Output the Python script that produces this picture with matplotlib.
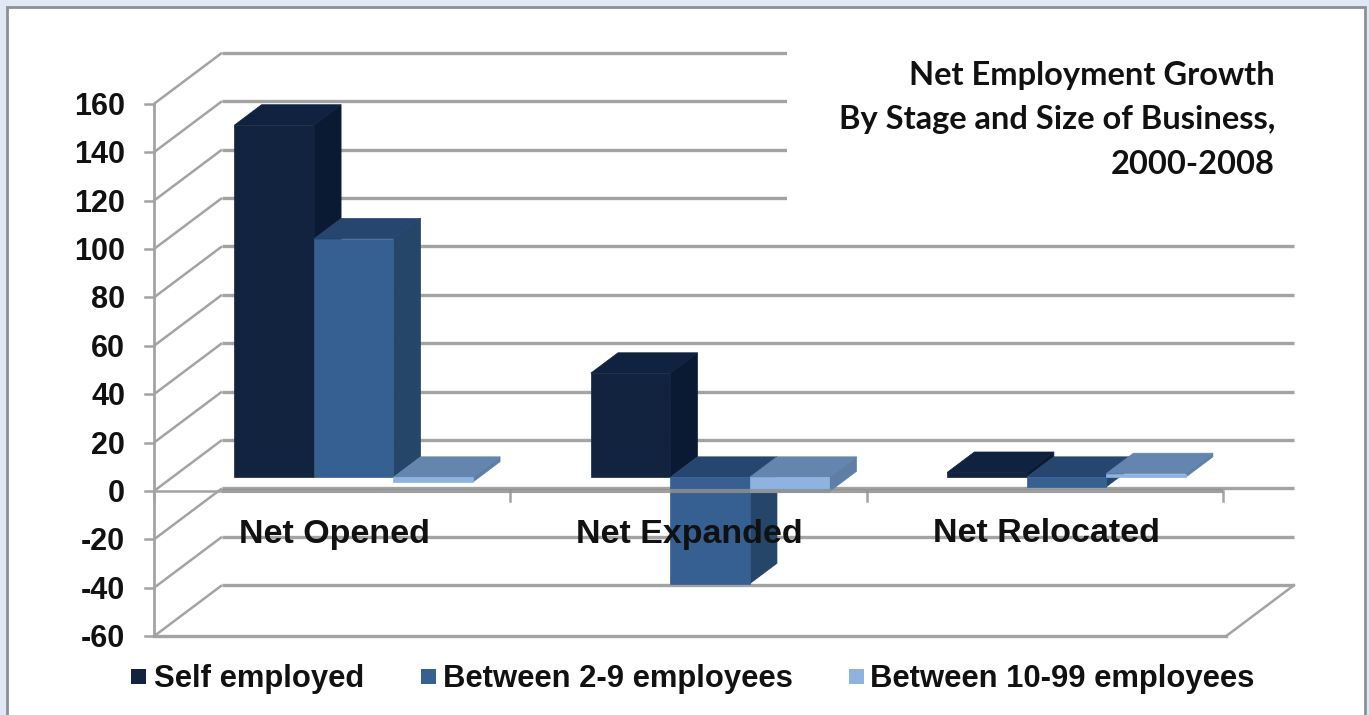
import matplotlib
matplotlib.use('Agg')
import matplotlib.pyplot as plt
from matplotlib.patches import Polygon, Rectangle

categories = ['Net Opened', 'Net Expanded', 'Net Relocated']
series_names = ['Self employed', 'Between 2-9 employees', 'Between 10-99 employees']
self_employed = [145.5, 43, 2]
between_2_9 = [98.5, -44, -4]
between_10_99 = [-2, -6, 1.5]
y_ticks = [160, 140, 120, 100, 80, 60, 40, 20, 0, -20, -40, -60]

# front, top and side shades of each series
front_colors = ['#12233f', '#365f92', '#8eb3e0']
top_colors = ['#0f2340', '#264670', '#6485ae']
side_colors = ['#0b1a33', '#254569', '#5f7ea6']

# the axes fill the figure: one x unit is one category, one y unit is one value unit
PX_X = 356.4
PX_Y = 2.42
DEPTH_X = 68 / PX_X
DEPTH_Y = 51 / PX_Y
BAR_FRONT = 0.27
BAR_BACK = 0.67
BAR_W = 79.5 / PX_X
BAR_START = 0.174
FLOOR_END = 1072 / PX_X
GRID = '#a3a3a3'
TEXT = '#111111'


def proj(x, v, d=0):
    return x + DEPTH_X * d, v + DEPTH_Y * d


def px(x_pix, y_pix):
    return (x_pix - 154) / PX_X, (491 - y_pix) / PX_Y


fig = plt.figure(figsize=(13.69, 7.15), dpi=100, facecolor='#dfe8f3')
ax = fig.add_axes([0, 0, 1, 1])
ax.set_xlim(px(0, 0)[0], px(1369, 0)[0])
ax.set_ylim(px(0, 715)[1], px(0, 0)[1])
ax.axis('off')

# panel behind the chart
x0, y0 = px(7, 720)
x1, y1 = px(1365, 7)
ax.add_patch(Rectangle((x0, y0), x1 - x0, y1 - y0, fc='white', ec='#8b8f96', lw=2, zorder=0))

# side wall, back wall and floor
for v in y_ticks:
    xa, ya = proj(0, v)
    xb, yb = proj(0, v, 1)
    xc, yc = proj(FLOOR_END, v, 1)
    ax.plot([xa, xb], [ya, yb], color=GRID, lw=1.8, zorder=1, solid_capstyle='butt')
    ax.plot([xb, xc], [yb, yc], color=GRID, lw=2.4, zorder=1, solid_capstyle='butt')
    ax.plot([-9 / PX_X, 0], [v, v], color=GRID, lw=1.8, zorder=1)
    ax.text(-29 / PX_X, v - 3 / PX_Y, str(v), ha='right', va='center', fontsize=22, fontweight='bold',
            family='Liberation Sans', color=TEXT, zorder=6)
ax.plot([0, 0], [-60, 160], color=GRID, lw=2, zorder=1)
ax.plot([0, FLOOR_END], [-60, -60], color=GRID, lw=2.4, zorder=1)
xb, yb = proj(FLOOR_END, -60, 1)
ax.plot([FLOOR_END, xb], [-60, yb], color=GRID, lw=1.8, zorder=1)

# zero axis with category ticks, it runs across the front of the columns
ax.plot([0, DEPTH_X], [0, 0], color=GRID, lw=1.8, zorder=1.5, solid_capstyle='butt')
ax.plot([DEPTH_X, 3], [0, 0], color='#8f8f8f', lw=3, alpha=0.85, zorder=5, solid_capstyle='butt')
for i in range(4):
    ax.plot([i, i], [0, -10 / PX_Y], color=GRID, lw=1.8, zorder=1.5)

# the title sits on a white box that hides the back wall lines
bx0, by0 = px(787, 226)
bx1, by1 = px(1296, 38)
ax.add_patch(Rectangle((bx0, by0), bx1 - bx0, by1 - by0, fc='white', ec='none', zorder=2))
title_lines = ['Net Employment Growth', 'By Stage and Size of Business,', '2000-2008']
for line, y_pix in zip(title_lines, [75, 120, 165]):
    tx, ty = px(1275, y_pix)
    ax.text(tx, ty, line, ha='right', va='center', fontsize=23.5, fontweight='bold',
            family='Lato', color=TEXT, zorder=6)

# 3d columns, left to right so the later ones overlap the earlier ones
z = 3.0
for c in range(len(categories)):
    values = [self_employed[c], between_2_9[c], between_10_99[c]]
    for s, val in enumerate(values):
        left = c + BAR_START + s * BAR_W
        right = left + BAR_W
        top = max(val, 0)
        bottom = min(val, 0)
        front = [proj(left, bottom, BAR_FRONT), proj(right, bottom, BAR_FRONT),
                 proj(right, top, BAR_FRONT), proj(left, top, BAR_FRONT)]
        side = [proj(right, bottom, BAR_FRONT), proj(right, bottom, BAR_BACK),
                proj(right, top, BAR_BACK), proj(right, top, BAR_FRONT)]
        upper = [proj(left, top, BAR_FRONT), proj(right, top, BAR_FRONT),
                 proj(right, top, BAR_BACK), proj(left, top, BAR_BACK)]
        ax.add_patch(Polygon(side, fc=side_colors[s], ec=side_colors[s], lw=0.5, zorder=z))
        ax.add_patch(Polygon(upper, fc=top_colors[s], ec=top_colors[s], lw=0.5, zorder=z))
        ax.add_patch(Polygon(front, fc=front_colors[s], ec=front_colors[s], lw=0.5, zorder=z + 0.01))
        z += 0.02

# category labels
for c, name in enumerate(categories):
    tx, ty = px([334, 689, 1046][c], 534)
    ax.text(tx, ty, name, ha='center', va='center', fontsize=24.5, fontweight='bold',
            family='Liberation Sans', color=TEXT, zorder=6)

# legend
for name, color, sq_pix, text_pix in zip(series_names, front_colors, [131, 421, 849], [154, 443, 870]):
    lx, ly = px(sq_pix, 684)
    ax.add_patch(Rectangle((lx, ly), 15 / PX_X, 15 / PX_Y, fc=color, ec='none', zorder=6))
    tx, ty = px(text_pix, 679)
    ax.text(tx, ty, name, ha='left', va='center', fontsize=22.3, fontweight='bold',
            family='Liberation Sans', color=TEXT, zorder=6)

fig.savefig('out.png', dpi=100, facecolor=fig.get_facecolor())
